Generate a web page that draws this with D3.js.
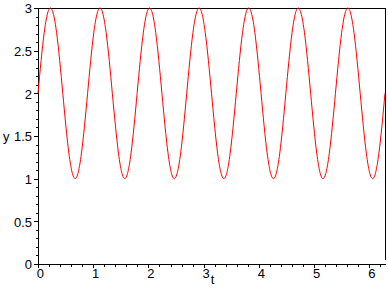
<!DOCTYPE html>
<html>
<head>
<meta charset="utf-8">
<script src="https://cdn.jsdelivr.net/npm/d3@7"></script>
<style>
  body { margin: 0; background: #fff; }
  svg { display: block; }
  .axis text { font-family: "Liberation Sans", Arial, sans-serif; font-size: 13px; fill: #000; }
  .axis path, .axis line { stroke: #000; shape-rendering: crispEdges; }
</style>
</head>
<body>
<div id="chart"></div>
<script>
// points (peaks, troughs, crossings and in-between)
const tValues = [0, 0.112, 0.224, 0.337, 0.449, 0.561, 0.673, 0.785,
  0.898, 1.010, 1.122, 1.234, 1.346, 1.459, 1.571, 1.683,
  1.795, 1.907, 2.020, 2.132, 2.244, 2.356, 2.468, 2.581,
  2.693, 2.805, 2.917, 3.029, 3.142, 3.254, 3.366, 3.478,
  3.590, 3.703, 3.815, 3.927, 4.039, 4.151, 4.264, 4.376,
  4.488, 4.600, 4.712, 4.825, 4.937, 5.049, 5.161, 5.273,
  5.386, 5.498, 5.610, 5.722, 5.834, 5.947, 6.059, 6.171, 6.283];
const yValues = [2, 2.71, 3, 2.71, 2, 1.29, 1, 1.29,
  2, 2.71, 3, 2.71, 2, 1.29, 1, 1.29,
  2, 2.71, 3, 2.71, 2, 1.29, 1, 1.29,
  2, 2.71, 3, 2.71, 2, 1.29, 1, 1.29,
  2, 2.71, 3, 2.71, 2, 1.29, 1, 1.29,
  2, 2.71, 3, 2.71, 2, 1.29, 1, 1.29,
  2, 2.71, 3, 2.71, 2, 1.29, 1, 1.29, 2];

const xTicks = [0, 1, 2, 3, 4, 5, 6];
const xMinor = d3.range(0, 6.3, 0.2);
const yTicks = [0, 0.5, 1, 1.5, 2, 2.5, 3];
const yMinor = d3.range(0, 3.01, 0.1);

const width = 388, height = 288;
const m = { left: 38, right: 385, top: 8, bottom: 264 };

const x = d3.scaleLinear().domain([0, 6.2832]).range([m.left, m.right]);
const y = d3.scaleLinear().domain([0, 3]).range([m.bottom, m.top]);

const svg = d3.select("#chart").append("svg")
    .attr("width", width)
    .attr("height", height);

// minor ticks
svg.append("g")
    .attr("class", "axis")
    .attr("transform", `translate(${m.left},0)`)
    .call(d3.axisLeft(y).tickValues(yMinor).tickSize(2).tickSizeOuter(0).tickFormat(""))
    .select(".domain").remove();

svg.append("g")
    .attr("class", "axis")
    .attr("transform", `translate(0,${m.bottom})`)
    .call(d3.axisBottom(x).tickValues(xMinor).tickSize(3).tickSizeOuter(0).tickFormat(""))
    .select(".domain").remove();

// major ticks with labels
svg.append("g")
    .attr("class", "axis")
    .attr("transform", `translate(${m.left},0)`)
    .call(d3.axisLeft(y).tickValues(yTicks).tickSize(4).tickSizeOuter(0).tickPadding(2)
        .tickFormat(d3.format("")))
    .call(g => g.selectAll("text").attr("dy", "0.36em"));

svg.append("g")
    .attr("class", "axis")
    .attr("transform", `translate(0,${m.bottom})`)
    .call(d3.axisBottom(x).tickValues(xTicks).tickSize(4).tickSizeOuter(0).tickPadding(1)
        .tickFormat(d3.format("d")))
    .call(g => g.selectAll("text").attr("dx", "0.15em"));

// frame lines at top and right
svg.append("line")
    .attr("x1", m.left).attr("x2", m.right)
    .attr("y1", y(3)).attr("y2", y(3))
    .attr("stroke", "#000").attr("shape-rendering", "crispEdges");
svg.append("line")
    .attr("x1", x(6.2832)).attr("x2", x(6.2832))
    .attr("y1", y(3)).attr("y2", m.bottom - 4)
    .attr("stroke", "#000").attr("shape-rendering", "crispEdges");

// axis names
svg.append("text")
    .attr("x", 3).attr("y", y(1.5))
    .attr("dy", "0.36em")
    .style("font", "13px 'Liberation Sans', Arial, sans-serif")
    .text("y");
svg.append("text")
    .attr("x", x(3) + 7).attr("y", 284)
    .style("font", "13px 'Liberation Sans', Arial, sans-serif")
    .text("t");

// the curve
const line = d3.line()
    .x((d, i) => x(tValues[i]))
    .y(d => y(d))
    .curve(d3.curveNatural);

svg.append("path")
    .datum(yValues)
    .attr("fill", "none")
    .attr("stroke", "#ff0000")
    .attr("stroke-width", 1)
    .attr("d", line);
</script>
</body>
</html>
